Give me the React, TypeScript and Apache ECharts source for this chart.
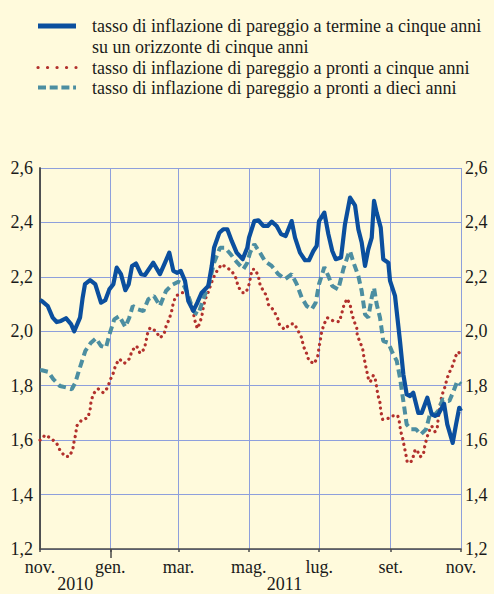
import React, { useEffect, useRef } from "react";
import * as echarts from "echarts";

// Day offsets are counted from 1 Nov 2010 (day 0) to 1 Nov 2011 (day 365)
const monthTicks = [0, 61, 120, 181, 242, 304, 365];
const monthLabels = ["nov.", "gen.", "mar.", "mag.", "lug.", "set.", "nov."];
const yearTicks = [30.5, 212];
const yearLabels = ["2010", "2011"];
const yearBoundary = [61];

const nameForward = "tasso di inflazione di pareggio a termine a cinque anni";
const nameForward2 = "su un orizzonte di cinque anni";
const nameSpot5 = "tasso di inflazione di pareggio a pronti a cinque anni";
const nameSpot10 = "tasso di inflazione di pareggio a pronti a dieci anni";

// [day, value]
const forwardData: [number, number][] = [
  [0, 2.115], [1.7, 2.111], [6.7, 2.093], [11, 2.05], [14.5, 2.034], [18.2, 2.038], [22.5, 2.048],
  [26.9, 2.026], [29.7, 2.0], [34.7, 2.05], [37, 2.124], [39, 2.173], [43.4, 2.188], [47.9, 2.173],
  [52.9, 2.105], [56.6, 2.114], [60.1, 2.154], [63.6, 2.173], [66.5, 2.234], [70.2, 2.21],
  [74, 2.151], [76.9, 2.173], [79.8, 2.24], [83.2, 2.249], [87.6, 2.21], [91, 2.207], [98.2, 2.252],
  [104, 2.21], [108.4, 2.252], [112.1, 2.289], [115.6, 2.222], [119, 2.215], [122, 2.222],
  [125.7, 2.185], [128.6, 2.111], [132.9, 2.075], [136.4, 2.105], [140.2, 2.142], [145.9, 2.166],
  [148.9, 2.24], [150.9, 2.307], [155.5, 2.362], [158.9, 2.375], [162.4, 2.375], [166.2, 2.332],
  [170.5, 2.289], [175.7, 2.265], [179.7, 2.307], [181.2, 2.344], [185.8, 2.405], [189.3, 2.408],
  [193.6, 2.387], [197.4, 2.387], [200.9, 2.403], [205.2, 2.387], [209, 2.357], [213, 2.35],
  [218.2, 2.405], [221.1, 2.344], [225.4, 2.289], [229.8, 2.261], [233.2, 2.261], [237, 2.295],
  [239.9, 2.314], [241.9, 2.405], [246.5, 2.436], [250, 2.357], [253.4, 2.295], [256.4, 2.265],
  [261, 2.271], [264.4, 2.393], [268.8, 2.491], [273.1, 2.463], [276, 2.375], [278.9, 2.326],
  [281.8, 2.24], [284.6, 2.301], [287.6, 2.344], [289.6, 2.479], [291.9, 2.436], [295.4, 2.381],
  [297.6, 2.265], [302, 2.252], [303.5, 2.185], [307.8, 2.13], [312.1, 1.964], [315, 1.842],
  [317.9, 1.768], [320.8, 1.762], [323.6, 1.774], [328, 1.7], [330.9, 1.7], [335.8, 1.756],
  [339.6, 1.695], [342.5, 1.689], [345.3, 1.695], [350.3, 1.734], [353.1, 1.658], [357.8, 1.59],
  [360.7, 1.658], [363.5, 1.719], [365, 1.707],
];

const spot10Data: [number, number][] = [
  [0, 1.857], [1.7, 1.857], [7.2, 1.851], [11.5, 1.824], [17.3, 1.799], [23.1, 1.793], [27.5, 1.787],
  [30.6, 1.811], [34.1, 1.86], [39.3, 1.928], [44.2, 1.958], [48.6, 1.974], [52.9, 1.946],
  [57.2, 1.94], [60.7, 1.995], [64.4, 2.044], [68.8, 2.056], [74, 2.016], [77.4, 2.05],
  [80.4, 2.093], [84.7, 2.081], [89.6, 2.074], [93.9, 2.118], [98.8, 2.13], [104, 2.093],
  [109.2, 2.148], [114.2, 2.17], [119.9, 2.182], [124.2, 2.173], [127.7, 2.142], [131.5, 2.093],
  [134.4, 2.068], [137.2, 2.062], [141.6, 2.118], [146.8, 2.179], [150.9, 2.252], [156.1, 2.307],
  [160.4, 2.307], [165.3, 2.283], [171.1, 2.252], [176.3, 2.228], [179.5, 2.25], [182.1, 2.289],
  [185.8, 2.32], [190.7, 2.289], [195.1, 2.258], [200.9, 2.24], [206.6, 2.21], [212.4, 2.191],
  [218.2, 2.21], [222.6, 2.173], [226.9, 2.124], [231.2, 2.093], [235.6, 2.081], [239, 2.105],
  [241.9, 2.173], [246.5, 2.236], [250, 2.203], [253.4, 2.166], [258.6, 2.154], [263, 2.228],
  [267.3, 2.283], [268.8, 2.295], [271.6, 2.255], [276, 2.203], [278.9, 2.148], [281.8, 2.062],
  [284.6, 2.05], [287.6, 2.124], [289.6, 2.16], [291.9, 2.099], [294.8, 2.05], [297.6, 1.964],
  [302, 1.958], [304.9, 1.928], [309.3, 1.891], [312.1, 1.829], [315, 1.744], [317.9, 1.658],
  [321.4, 1.64], [326, 1.64], [330.1, 1.621], [334.7, 1.64], [338.1, 1.695], [342.5, 1.695],
  [345.3, 1.707], [349.1, 1.75], [354.9, 1.744], [358.3, 1.778], [361.8, 1.817], [365, 1.805],
];

const spot5Data: [number, number][] = [
  [0, 1.6], [1.5, 1.603], [4.3, 1.619], [9.5, 1.607], [14.5, 1.588], [17.3, 1.563], [21.7, 1.54],
  [25.4, 1.54], [28.4, 1.565], [29.5, 1.594], [31, 1.623], [31.8, 1.652], [36.2, 1.674],
  [41.4, 1.682], [43.4, 1.71], [44.2, 1.74], [46.2, 1.77], [50.3, 1.789], [54.9, 1.774],
  [58.7, 1.793], [60.7, 1.82], [63.6, 1.847], [65.6, 1.876], [68.8, 1.898], [73.1, 1.882],
  [78, 1.901], [79.5, 1.928], [83.8, 1.946], [86.7, 1.919], [90.2, 1.934], [91.9, 1.961],
  [93, 1.989], [95.4, 2.013], [100.3, 2.001], [104, 1.976], [107.5, 1.989], [109.2, 2.017],
  [112.1, 2.046], [114.2, 2.075], [115.6, 2.105], [117.9, 2.13], [122.9, 2.142], [127.2, 2.142],
  [129.4, 2.124], [130.7, 2.093], [132.9, 2.068], [134.4, 2.038], [136.4, 2.01], [138.7, 2.032],
  [140.5, 2.06], [141.6, 2.089], [143.3, 2.118], [145.9, 2.144], [148, 2.17], [150.3, 2.197],
  [153.7, 2.224], [157.5, 2.246], [161.9, 2.234], [166.2, 2.222], [169.9, 2.195], [171.9, 2.163],
  [175.7, 2.142], [178.6, 2.142], [181.5, 2.175], [182.8, 2.207], [184.1, 2.228], [186.4, 2.228],
  [189.3, 2.203], [190.7, 2.173], [193.6, 2.148], [196.6, 2.13], [197.9, 2.099], [201.8, 2.081],
  [205.7, 2.053], [207.5, 2.026], [211.8, 2.007], [216.8, 2.026], [220.5, 2.028], [223.9, 2.001],
  [226.9, 1.976], [228.3, 1.946], [231.2, 1.918], [233.2, 1.891], [237.8, 1.881], [240.8, 1.909],
  [241.9, 1.94], [244.2, 1.997], [246.2, 2.026], [249.1, 2.05], [254.3, 2.038], [259.5, 2.035],
  [261.6, 2.065], [263.3, 2.093], [266.2, 2.12], [268.8, 2.099], [270.2, 2.068], [272.2, 2.038],
  [274.6, 2.013], [275.1, 1.983], [277.4, 1.962], [279.8, 1.934], [280.9, 1.903], [282.4, 1.872],
  [283.8, 1.844], [285.2, 1.815], [286.7, 1.817], [289, 1.838], [290.7, 1.824], [291.9, 1.793],
  [293, 1.765], [294.8, 1.737], [295.4, 1.707], [297.1, 1.676], [302, 1.68], [305.4, 1.689],
  [310.1, 1.691], [311.5, 1.668], [312.7, 1.633], [314.5, 1.605], [315.9, 1.575], [317.3, 1.545],
  [318.5, 1.517], [322.5, 1.523], [325.1, 1.563], [326.6, 1.566], [329.5, 1.539], [332.3, 1.545],
  [333.5, 1.576], [335.3, 1.607], [337.3, 1.633], [339.6, 1.652], [342.5, 1.631], [344.5, 1.648],
  [345.3, 1.682], [347.4, 1.744], [349.1, 1.772], [351.1, 1.796], [353.1, 1.829], [355.5, 1.854],
  [358.3, 1.879], [359.8, 1.905], [362.7, 1.925], [365, 1.912],
];

const FONT = "'Liberation Serif', 'Times New Roman', serif";
const TEXT = "#1a1a1a";
const GRID = "#8e9fdc";
const AXIS = "#4a4a4a";
const BLUE = "#0b4f9e";
const RED = "#b2302c";
const TEAL = "#4c8ea1";

const legendCommon = {
  orient: "vertical",
  left: 38,
  padding: 0,
  itemGap: 0,
  itemWidth: 38,
  itemHeight: 10,
  selectedMode: false,
  itemStyle: { color: "rgba(0,0,0,0)", borderColor: "rgba(0,0,0,0)", borderWidth: 0 },
  textStyle: {
    fontFamily: FONT,
    fontSize: 18,
    color: TEXT,
    lineHeight: 21,
    padding: [0, 0, 0, 11],
  },
};

export default function App() {
  const ref = useRef<HTMLDivElement>(null);
  useEffect(() => {
    if (!ref.current) return;
    const chart = echarts.init(ref.current, undefined, { renderer: "svg" });
    const yLabel = (v: number) => v.toFixed(1).replace(".", ",");
    chart.setOption({
      animation: false,
      backgroundColor: "#fffadc",
      textStyle: { fontFamily: FONT },
      legend: [
        {
          ...legendCommon,
          left: 35.5,
          top: 15.5,
          data: [{ name: nameForward, lineStyle: { width: 5, type: "solid" } }],
        },
        {
          ...legendCommon,
          left: 36,
          top: 57,
          itemGap: -1,
          data: [
            { name: nameSpot5, lineStyle: { width: 3.2, type: [0.1, 9.4], cap: "round" } },
            { name: nameSpot10, lineStyle: { width: 4, type: [8, 3.7] } },
          ],
        },
      ],
      graphic: [
        {
          type: "text",
          x: 92,
          y: 47,
          silent: true,
          style: {
            text: nameForward2,
            font: "18px " + FONT,
            fill: TEXT,
            verticalAlign: "middle",
            lineHeight: 21,
          },
        },
      ],
      grid: { left: 40, right: 33, top: 168, bottom: 45, containLabel: false },
      xAxis: [
        {
          type: "value",
          min: 0,
          max: 365,
          position: "bottom",
          axisLine: { show: true, onZero: false, lineStyle: { color: AXIS, width: 1.5 } },
          axisTick: { show: true, customValues: monthTicks, length: 3, lineStyle: { color: AXIS, width: 1.5 } },
          splitLine: { show: true, lineStyle: { color: GRID, width: 1 } },
          axisLabel: {
            customValues: monthTicks,
            formatter: (v: number) => monthLabels[monthTicks.indexOf(v)] ?? "",
            fontFamily: FONT,
            fontSize: 18,
            color: TEXT,
            margin: 9,
          },
        },
        {
          type: "value",
          min: 0,
          max: 365,
          position: "bottom",
          axisLine: { show: false },
          axisTick: { show: true, customValues: yearBoundary, length: 9, lineStyle: { color: AXIS, width: 1.5 } },
          splitLine: { show: false },
          axisLabel: {
            customValues: yearTicks,
            formatter: (v: number) => yearLabels[yearTicks.indexOf(v)] ?? "",
            fontFamily: FONT,
            fontSize: 18,
            color: TEXT,
            margin: 26,
          },
        },
      ],
      yAxis: [
        {
          type: "value",
          min: 1.2,
          max: 2.6,
          interval: 0.2,
          position: "left",
          axisLine: { show: true, lineStyle: { color: AXIS, width: 1.5 } },
          axisTick: { show: false },
          splitLine: { show: true, lineStyle: { color: GRID, width: 1 } },
          axisLabel: { formatter: yLabel, fontFamily: FONT, fontSize: 18, color: TEXT, margin: 7 },
        },
        {
          type: "value",
          min: 1.2,
          max: 2.6,
          interval: 0.2,
          position: "right",
          axisLine: { show: true, lineStyle: { color: AXIS, width: 1.5 } },
          axisTick: { show: false },
          splitLine: { show: false },
          axisLabel: { formatter: yLabel, fontFamily: FONT, fontSize: 18, color: TEXT, margin: 4 },
        },
      ],
      series: [
        {
          name: nameSpot5,
          type: "line",
          data: spot5Data,
          symbol: "none",
          lineStyle: { color: RED, width: 3.2, type: [0.1, 5.6], cap: "round" },
          itemStyle: { color: RED },
        },
        {
          name: nameSpot10,
          type: "line",
          data: spot10Data,
          symbol: "none",
          lineStyle: { color: TEAL, width: 4, type: [8, 4.5] },
          itemStyle: { color: TEAL },
        },
        {
          name: nameForward,
          type: "line",
          data: forwardData,
          symbol: "none",
          lineStyle: { color: BLUE, width: 4.2, join: "round" },
          itemStyle: { color: BLUE },
        },
      ],
    });
    return () => chart.dispose();
  }, []);
  return (
    <div
      ref={ref}
      style={{ position: "fixed", left: 0, top: 0, width: 494, height: 594 }}
    />
  );
}
